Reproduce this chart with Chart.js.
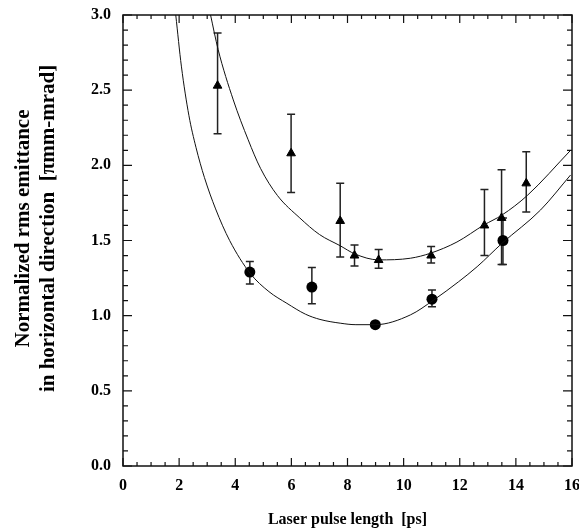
<!DOCTYPE html>
<html>
<head>
<meta charset="utf-8">
<script src="https://cdn.jsdelivr.net/npm/chart.js@4.4.1/dist/chart.umd.min.js"></script>
<style>
  html, body { margin: 0; padding: 0; background: #fff; }
  #wrap { width: 579px; height: 531px; position: relative; }
</style>
</head>
<body>
<div id="wrap"><canvas id="emittanceChart"></canvas></div>
<script>
// measured points (triangles)
var triX  = [3.37, 5.99, 7.74, 8.25, 9.11, 10.98, 12.88, 13.49, 14.37];
var triY  = [2.53, 2.08, 1.63, 1.40, 1.37, 1.40, 1.60, 1.65, 1.88];
var triHi = [2.88, 2.34, 1.88, 1.47, 1.44, 1.46, 1.84, 1.97, 2.09];
var triLo = [2.21, 1.82, 1.39, 1.33, 1.315, 1.35, 1.40, 1.34, 1.69];

// measured points (circles)
var cirX  = [4.52, 6.73, 8.99, 11.01, 13.54];
var cirY  = [1.29, 1.19, 0.94, 1.11, 1.50];
var cirHi = [1.36, 1.32, null, 1.17, 1.65];
var cirLo = [1.21, 1.08, null, 1.06, 1.34];

// fitted curves
var upperFitX = [3.12, 3.39, 3.93, 4.46, 4.9, 5.5, 6.3, 7.0, 7.74, 8.27, 9.11, 10.24, 10.95, 11.9, 12.86, 13.51, 14.41, 15.95];
var upperFitY = [3.0, 2.77, 2.435, 2.17, 1.98, 1.80, 1.65, 1.54, 1.465, 1.41, 1.371, 1.382, 1.415, 1.49, 1.603, 1.67, 1.80, 2.10];
var lowerFitX = [1.88, 2.08, 2.35, 2.6, 2.9, 3.3, 3.8, 4.53, 5.2, 5.84, 6.5, 7.02, 7.74, 8.3, 8.99, 10.24, 11.07, 11.96, 12.62, 13.51, 14.88, 15.95];
var lowerFitY = [3.0, 2.66, 2.33, 2.12, 1.92, 1.71, 1.50, 1.282, 1.16, 1.082, 1.01, 0.975, 0.95, 0.94, 0.94, 1.005, 1.104, 1.226, 1.326, 1.482, 1.703, 1.936];

var xTickValues = [0, 2, 4, 6, 8, 10, 12, 14, 16];
var yTickValues = [0.0, 0.5, 1.0, 1.5, 2.0, 2.5, 3.0];

var yTitleLines = ['Normalized rms emittance', 'in horizontal direction  [\u03C0mm-mrad]'];

function pts(xs, ys) {
  return xs.map(function(x, i) { return { x: x, y: ys[i] }; });
}

var errorBarPlugin = {
  id: 'errorBars',
  beforeDatasetsDraw: function(chart) {
    var ctx = chart.ctx, xs = chart.scales.x, ys = chart.scales.y;
    function bars(X, Hi, Lo) {
      for (var i = 0; i < X.length; i++) {
        if (Hi[i] == null) continue;
        var px = xs.getPixelForValue(X[i]);
        var top = ys.getPixelForValue(Hi[i]);
        var bot = ys.getPixelForValue(Lo[i]);
        ctx.beginPath();
        ctx.moveTo(px, top); ctx.lineTo(px, bot);
        ctx.moveTo(px - 4, top); ctx.lineTo(px + 4, top);
        ctx.moveTo(px - 4, bot); ctx.lineTo(px + 4, bot);
        ctx.stroke();
      }
    }
    ctx.save();
    ctx.strokeStyle = '#222';
    ctx.lineWidth = 1.5;
    bars(triX, triHi, triLo);
    bars(cirX, cirHi, cirLo);
    ctx.restore();
  }
};

var framePlugin = {
  id: 'frame',
  afterDraw: function(chart) {
    var ctx = chart.ctx, a = chart.chartArea, xs = chart.scales.x, ys = chart.scales.y;
    ctx.save();
    ctx.strokeStyle = '#111';
    ctx.lineWidth = 1.5;
    ctx.strokeRect(a.left, a.top, a.right - a.left, a.bottom - a.top);
    ctx.lineWidth = 1.2;
    ctx.beginPath();
    // x ticks, every 0.5, major every 2
    for (var k = 0; k <= 32; k++) {
      var v = k * 0.5;
      var len = (k % 4 === 0) ? 8 : 4;
      var px = xs.getPixelForValue(v);
      ctx.moveTo(px, a.bottom); ctx.lineTo(px, a.bottom - len);
      ctx.moveTo(px, a.top); ctx.lineTo(px, a.top + len);
    }
    // y ticks, every 0.1, major every 0.5
    for (var j = 0; j <= 30; j++) {
      var w = j * 0.1;
      var l2 = (j % 5 === 0) ? 9 : 5;
      var py = ys.getPixelForValue(w);
      ctx.moveTo(a.left, py); ctx.lineTo(a.left + l2, py);
      ctx.moveTo(a.right, py); ctx.lineTo(a.right - l2, py);
    }
    ctx.stroke();

    // y axis title, two rotated lines sitting a bit above the plot centre
    ctx.fillStyle = '#000';
    ctx.font = 'bold 21px "Liberation Serif", serif';
    ctx.textAlign = 'center';
    ctx.textBaseline = 'middle';
    var cy = (a.top + a.bottom) / 2 - 12;
    ctx.translate(24, cy);
    ctx.rotate(-Math.PI / 2);
    ctx.fillText(yTitleLines[0], 0, 0);
    ctx.fillText(yTitleLines[1], 0, 25);
    ctx.restore();
  }
};

var tickFont = { family: '"Liberation Serif", "DejaVu Serif", serif', size: 16, weight: 'bold' };

var emittanceChart = new Chart(document.getElementById('emittanceChart'), {
  type: 'scatter',
  data: {
    datasets: [
      {
        label: 'fit upper',
        data: pts(upperFitX, upperFitY),
        showLine: true,
        pointRadius: 0,
        borderColor: '#111',
        borderWidth: 1,
        cubicInterpolationMode: 'monotone'
      },
      {
        label: 'fit lower',
        data: pts(lowerFitX, lowerFitY),
        showLine: true,
        pointRadius: 0,
        borderColor: '#111',
        borderWidth: 1,
        cubicInterpolationMode: 'monotone'
      },
      {
        label: 'triangles',
        data: pts(triX, triY),
        pointStyle: 'triangle',
        pointRadius: 5,
        backgroundColor: '#000',
        borderColor: '#000',
        borderWidth: 1
      },
      {
        label: 'circles',
        data: pts(cirX, cirY),
        pointStyle: 'circle',
        pointRadius: 5.5,
        backgroundColor: '#000',
        borderColor: '#000',
        borderWidth: 0
      }
    ]
  },
  options: {
    animation: false,
    responsive: true,
    maintainAspectRatio: false,
    layout: { padding: { left: 0, right: 7, top: 15, bottom: 2 } },
    plugins: {
      legend: { display: false },
      tooltip: { enabled: false }
    },
    scales: {
      x: {
        type: 'linear',
        min: 0,
        max: 16,
        grid: { display: false, drawTicks: false },
        border: { display: false },
        afterBuildTicks: function(scale) {
          scale.ticks = xTickValues.map(function(v) { return { value: v }; });
        },
        ticks: {
          color: '#000',
          font: tickFont,
          padding: 10,
          maxRotation: 0,
          callback: function(v) { return String(v); }
        },
        title: {
          display: true,
          text: 'Laser pulse length  [ps]',
          color: '#000',
          font: { family: '"Liberation Serif", serif', size: 16, weight: 'bold' },
          padding: { top: 13, bottom: 0 }
        },
        afterFit: function(scale) {
          scale.height = 63;
          scale.paddingLeft = 0;
          scale.paddingRight = 0;
        }
      },
      y: {
        type: 'linear',
        min: 0,
        max: 3,
        grid: { display: false, drawTicks: false },
        border: { display: false },
        afterBuildTicks: function(scale) {
          scale.ticks = yTickValues.map(function(v) { return { value: v }; });
        },
        ticks: {
          color: '#000',
          font: tickFont,
          padding: 12,
          callback: function(v) { return v.toFixed(1); }
        },
        title: { display: false },
        afterFit: function(scale) {
          scale.width = 123;
          scale.paddingTop = 0;
          scale.paddingBottom = 0;
        }
      }
    }
  },
  plugins: [errorBarPlugin, framePlugin]
});
</script>
</body>
</html>
